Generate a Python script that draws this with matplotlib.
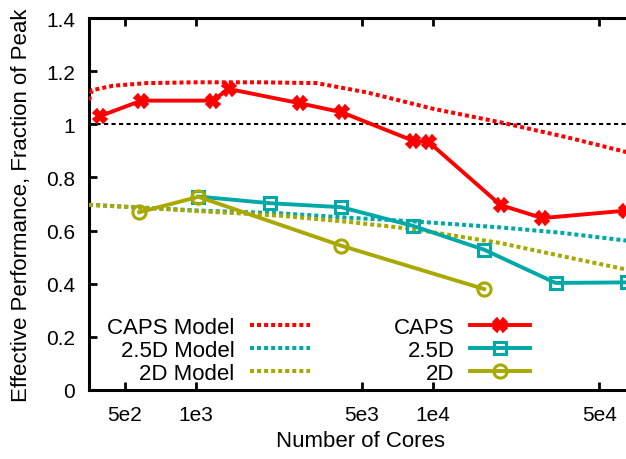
import matplotlib
matplotlib.use("Agg")
import matplotlib.pyplot as plt
from matplotlib.lines import Line2D

plt.rcParams['font.family'] = ['Liberation Sans', 'DejaVu Sans']

# ---- data ----
caps_cores = [392, 588, 1176, 1372, 2744, 4116, 8232, 9604, 19208, 28812, 64800]
caps_perf = [1.030, 1.089, 1.089, 1.133, 1.079, 1.045, 0.938, 0.932, 0.696, 0.647, 0.675]

d25_cores = [1024, 2048, 4096, 8192, 16384, 32768, 65536]
d25_perf = [0.728, 0.703, 0.688, 0.618, 0.528, 0.403, 0.405]

d2_cores = [576, 1024, 4096, 16384]
d2_perf = [0.669, 0.727, 0.543, 0.380]

caps_model_cores = [354, 364, 447, 619, 1007, 1862, 3226, 5248, 10020, 19180, 36650, 65536]
caps_model_perf = [1.090, 1.128, 1.145, 1.155, 1.158, 1.158, 1.155, 1.120, 1.058, 1.0075, 0.951, 0.895]

d25_model_cores = [354, 640, 1040, 2259, 4467, 8150, 19180, 34360, 65536]
d25_model_perf = [0.697, 0.685, 0.675, 0.665, 0.648, 0.635, 0.612, 0.592, 0.562]

d2_model_cores = [354, 640, 1040, 2259, 4467, 8150, 19180, 34360, 65536]
d2_model_perf = [0.697, 0.684, 0.673, 0.656, 0.632, 0.606, 0.553, 0.505, 0.453]

peak_level = [1.0, 1.0]
x_limits = [354, 65536]

xtick_vals = [500, 1000, 5000, 10000, 50000]
xtick_labels = ['5e2', '1e3', '5e3', '1e4', '5e4']
ytick_vals = [0, 0.2, 0.4, 0.6, 0.8, 1.0, 1.2, 1.4]
ytick_labels = ['0', '0.2', '0.4', '0.6', '0.8', '1', '1.2', '1.4']

RED = '#FF0000'
TEAL = '#00A8A8'
OLIVE = '#A8A800'

W, H = 626, 460
fig = plt.figure(figsize=(W / 100, H / 100), dpi=100)
ax = fig.add_axes([89 / W, 1 - 391 / H, (627 - 89) / W, (391 - 19) / H])

ax.set_xscale('log')
ax.set_xlim(*x_limits)
ax.set_ylim(0, 1.4)

dot = (0, (1, 0.75))
mlw = 2.9
ax.plot(x_limits, peak_level, color='black', lw=1.5, linestyle=(0, (2, 1.6)), zorder=2)
l_cm, = ax.plot(caps_model_cores, caps_model_perf, color=RED, lw=mlw, linestyle=dot, label='CAPS Model', zorder=3)
l_2m, = ax.plot(d25_model_cores, d25_model_perf, color=TEAL, lw=mlw, linestyle=dot, label='2.5D Model', zorder=3)
l_dm, = ax.plot(d2_model_cores, d2_model_perf, color=OLIVE, lw=mlw, linestyle=dot, label='2D Model', zorder=3)

dlw = 2.8
l_c, = ax.plot(caps_cores, caps_perf, color=RED, lw=dlw, marker='X', markersize=10,
               markeredgewidth=1.2, label='CAPS', zorder=4, clip_on=False)
l_25, = ax.plot(d25_cores, d25_perf, color=TEAL, lw=dlw, marker='s', markersize=9,
                markerfacecolor='none', markeredgewidth=2.2, label='2.5D', zorder=5, clip_on=False)
l_2, = ax.plot(d2_cores, d2_perf, color=OLIVE, lw=dlw, marker='o', markersize=9.5,
               markerfacecolor='none', markeredgewidth=2.2, label='2D', zorder=6, clip_on=False)

ax.set_xticks(xtick_vals)
ax.set_xticklabels(xtick_labels)
ax.xaxis.set_minor_locator(matplotlib.ticker.NullLocator())
ax.set_yticks(ytick_vals)
ax.set_yticklabels(ytick_labels)

for s in ['left', 'top', 'bottom']:
    ax.spines[s].set_linewidth(2.2)
ax.spines['right'].set_visible(False)

ax.tick_params(axis='x', which='major', direction='in', length=6, width=2, top=True,
               labelsize=15, pad=11)
ax.tick_params(axis='y', which='major', direction='in', length=6, width=2, right=False,
               labelsize=15, pad=10)

leg_fs = 16
leg1 = ax.legend(handles=[l_cm, l_2m, l_dm], loc='upper right', markerfirst=False,
                 frameon=False, fontsize=leg_fs, handlelength=2.7, handletextpad=0.7,
                 labelspacing=0.08, borderpad=0, borderaxespad=0,
                 bbox_to_anchor=(310 / W, 1 - 318 / H), bbox_transform=fig.transFigure)
ax.add_artist(leg1)
leg2 = ax.legend(handles=[l_c, l_25, l_2], loc='upper right', markerfirst=False,
                 frameon=False, fontsize=leg_fs, handlelength=2.7, handletextpad=0.7,
                 labelspacing=0.08, borderpad=0, borderaxespad=0,
                 bbox_to_anchor=(530 / W, 1 - 318 / H), bbox_transform=fig.transFigure)

fig.text(360 / W, 1 - 442 / H, 'Number of Cores', ha='center', va='center', fontsize=16)
fig.text(22 / W, 1 - 205 / H, 'Effective Performance, Fraction of Peak', ha='center',
         va='center', rotation=90, fontsize=16)

fig.savefig('out.png', dpi=100)
